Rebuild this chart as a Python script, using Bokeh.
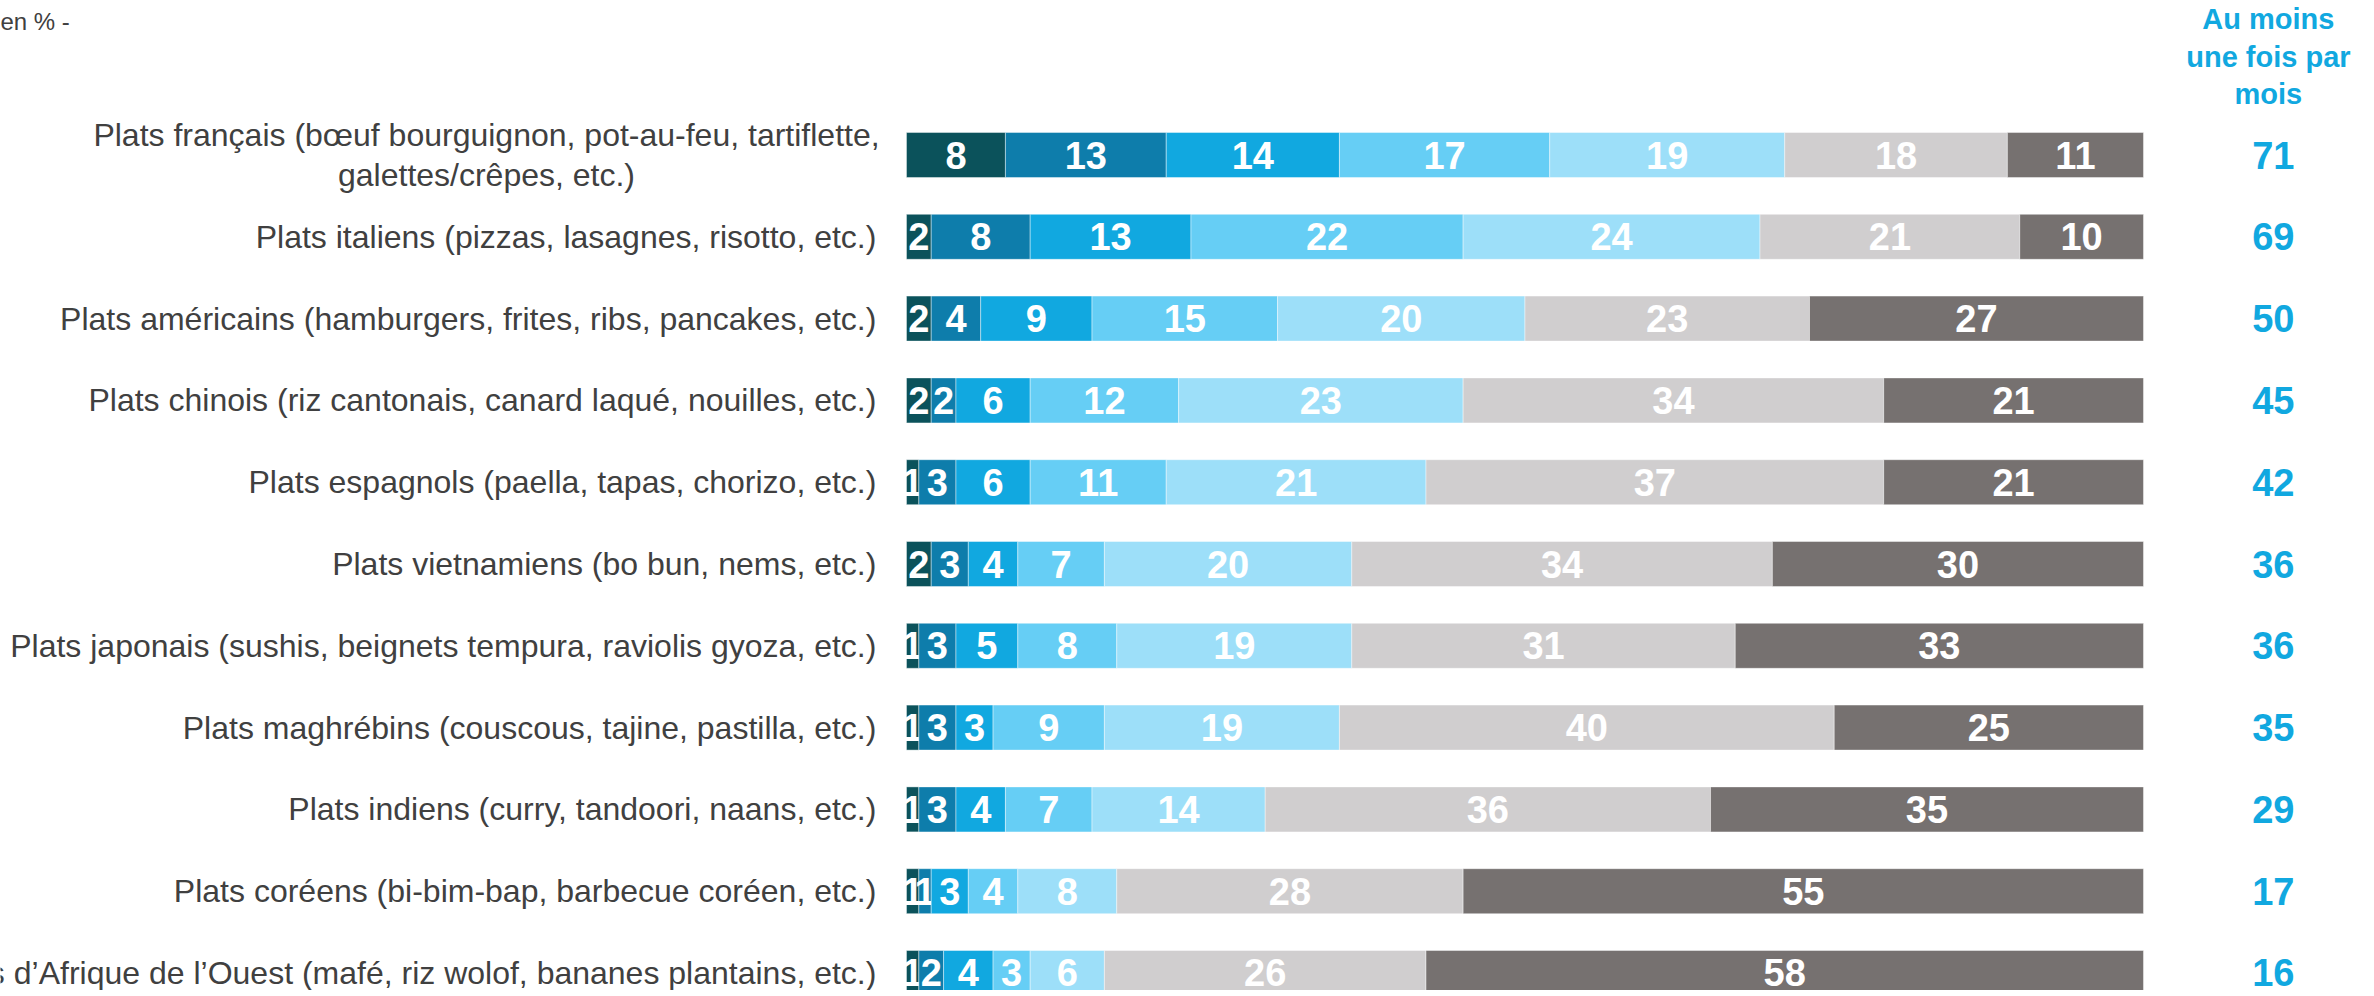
from bokeh.plotting import figure
from bokeh.models import ColumnDataSource, Range1d
from bokeh.embed import file_html
from bokeh.resources import INLINE
from bokeh.core.properties import value

categories = [
    "Plats français (bœuf bourguignon, pot-au-feu, tartiflette,\ngalettes/crêpes, etc.)",
    "Plats italiens (pizzas, lasagnes, risotto, etc.)",
    "Plats américains (hamburgers, frites, ribs, pancakes, etc.)",
    "Plats chinois (riz cantonais, canard laqué, nouilles, etc.)",
    "Plats espagnols (paella, tapas, chorizo, etc.)",
    "Plats vietnamiens (bo bun, nems, etc.)",
    "Plats japonais (sushis, beignets tempura, raviolis gyoza, etc.)",
    "Plats maghrébins (couscous, tajine, pastilla, etc.)",
    "Plats indiens (curry, tandoori, naans, etc.)",
    "Plats coréens (bi-bim-bap, barbecue coréen, etc.)",
    "Plats d’Afrique de l’Ouest (mafé, riz wolof, bananes plantains, etc.)",
]

s1 = [8, 2, 2, 2, 1, 2, 1, 1, 1, 1, 1]
s2 = [13, 8, 4, 2, 3, 3, 3, 3, 3, 1, 2]
s3 = [14, 13, 9, 6, 6, 4, 5, 3, 4, 3, 4]
s4 = [17, 22, 15, 12, 11, 7, 8, 9, 7, 4, 3]
s5 = [19, 24, 20, 23, 21, 20, 19, 19, 14, 8, 6]
s6 = [18, 21, 23, 34, 37, 34, 31, 40, 36, 28, 26]
s7 = [11, 10, 27, 21, 21, 30, 33, 25, 35, 55, 58]
series = [s1, s2, s3, s4, s5, s6, s7]

au_moins = [71, 69, 50, 45, 42, 36, 36, 35, 29, 17, 16]

colors = ["#0B525B", "#0E7DAB", "#11A8E0", "#66CEF5", "#9DDFF9", "#D0CECF", "#767170"]

W, H = 2366, 990
x0 = -73.24
x1 = 118.03
p = figure(width=W, height=H, output_backend="svg", toolbar_location=None,
           x_range=Range1d(x0, x1), y_range=Range1d(10.214, -1.889),
           min_border=0, min_border_left=0, min_border_right=0,
           min_border_top=0, min_border_bottom=0)
p.axis.visible = False
p.grid.visible = False
p.outline_line_color = None
p.background_fill_color = "white"
p.border_fill_color = "white"

LABEL_FONT = "Liberation Sans"

rows = list(range(len(categories)))
cum = [0] * len(categories)
for k, s in enumerate(series):
    left = cum[:]
    right = [a + b for a, b in zip(cum, s)]
    mid = [(a + b) / 2 for a, b in zip(left, right)]
    src = ColumnDataSource(dict(y=rows, left=left, right=right, mid=mid,
                                lab=[str(v) for v in s]))
    p.hbar(y="y", left="left", right="right", height=0.55, source=src,
           fill_color=colors[k], line_color="white", line_width=0.6, line_alpha=0.7)
    p.text(x="mid", y="y", text="lab", source=src, text_color="white",
           text_font=value("Liberation Sans"), text_font_style="bold",
           text_font_size="38px", text_align="center", text_baseline="middle")
    cum = right

# category labels
single = [i for i in rows if "\n" not in categories[i]]
multi = [i for i in rows if "\n" in categories[i]]
p.text(x=[-2.43] * len(single), y=single, text=[categories[i] for i in single],
       text_color="#404040", text_font=value(LABEL_FONT),
       text_font_size="32px", text_align="right", text_baseline="middle")
p.text(x=[-33.95] * len(multi), y=multi, text=[categories[i] for i in multi],
       text_color="#404040", text_font=value(LABEL_FONT),
       text_font_size="32px", text_align="center", text_baseline="middle",
       text_line_height=1.13)

# right column
p.text(x=[110.5] * len(rows), y=rows, text=[str(v) for v in au_moins],
       text_color="#11A8E0", text_font=value("Liberation Sans"), text_font_style="bold",
       text_font_size="38px", text_align="center", text_baseline="middle")
p.text(x=[110.1], y=[-1.204], text=["Au moins\nune fois par\nmois"],
       text_color="#11A8E0", text_font=value("Liberation Sans"), text_font_style="bold",
       text_font_size="29px", text_align="center", text_baseline="middle",
       text_line_height=1.17)

p.text(x=[x0], y=[-1.632], text=["en % -"], text_color="#404040",
       text_font=value(LABEL_FONT), text_font_size="24px",
       text_align="left", text_baseline="middle")

open("out.html", "w").write(file_html(p, INLINE))
